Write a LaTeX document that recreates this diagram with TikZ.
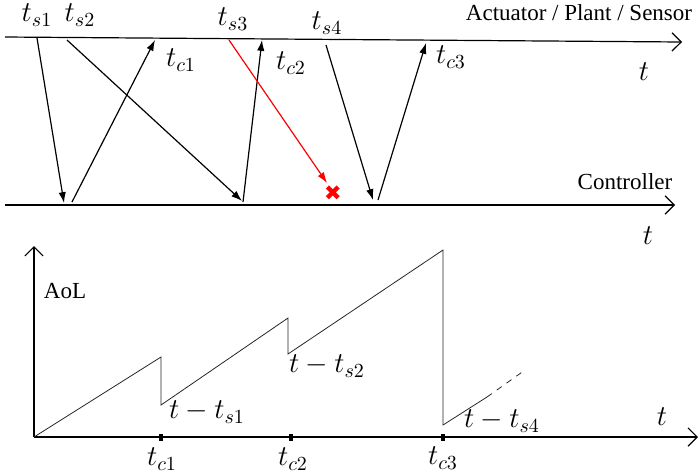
\documentclass[tikz,border=0pt]{standalone}
\usepackage{fontspec}
\setmainfont{Liberation Serif}
\newfontfamily\serifed{Liberation Serif}
\newfontfamily\symfont{DejaVu Sans}
\usetikzlibrary{arrows.meta}

\begin{document}
\begin{tikzpicture}[x=0.5pt, y=-0.5pt,
        msg/.style={-{Latex[length=1.9mm,width=1.3mm]}, semithick},
        ax/.style={-{Straight Barb[length=1.6mm,width=3.2mm]}, semithick},
        curve/.style={thin, black!85},
        lbl/.style={font=\fontsize{14.5}{16}\selectfont, inner sep=0pt},
        txt/.style={font=\serifed\fontsize{11.5}{13}\selectfont, inner sep=0pt},
        tick/.style={fill, minimum width=2pt, minimum height=3.5pt, inner sep=0pt}]
      \useasboundingbox (0,0) rectangle (700,473);
      % time lines
      \coordinate (a0) at (5,37); \coordinate (a1) at (682,42);
      \coordinate (b0) at (5,205); \coordinate (b1) at (675,205);
      \draw[ax] (a0) -- (a1);
      \draw[ax] (b0) -- (b1);
      \node[txt] (act) at (579,13) {Actuator / Plant / Sensor};
      \node[txt] (ctl) at (625,182) {Controller};
      \node[lbl] (ta) at (644,72) {$t$};
      \node[lbl] (tb) at (648,236) {$t$};
      % messages
      \coordinate (s1) at (37,38);  \coordinate (r1) at (64,203);
      \coordinate (u1) at (72,202); \coordinate (c1) at (155,40);
      \coordinate (s2) at (67,40);  \coordinate (r2) at (242,201);
      \coordinate (u2) at (243,202); \coordinate (c2) at (262,40);
      \coordinate (s3) at (229,40); \coordinate (r3) at (327,183);
      \coordinate (s4) at (326,45); \coordinate (r4) at (373,200);
      \coordinate (u3) at (378,200); \coordinate (c3) at (426,43);
      \draw[msg] (s1) -- (r1);
      \draw[msg] (u1) -- (c1);
      \draw[msg] (s2) -- (r2);
      \draw[msg] (u2) -- (c2);
      \draw[msg, red] (s3) -- (r3);
      \draw[msg] (s4) -- (r4);
      \draw[msg] (u3) -- (c3);
      \node[text=red, font=\symfont\fontsize{10.5}{11}\selectfont, inner sep=0pt] (lost) at (333,193) {✖};
      \node[lbl] (ls1) at (37,15) {$t_{s1}$};
      \node[lbl] (ls2) at (80,15) {$t_{s2}$};
      \node[lbl] (ls3) at (233,19) {$t_{s3}$};
      \node[lbl] (ls4) at (327,23) {$t_{s4}$};
      \node[lbl] (lc1) at (181,60) {$t_{c1}$};
      \node[lbl] (lc2) at (291,63) {$t_{c2}$};
      \node[lbl] (lc3) at (451,57) {$t_{c3}$};
      % AoL plot
      \coordinate (o) at (34,437);
      \coordinate (ytop) at (34,246); \coordinate (xend) at (698,437);
      \draw[ax] (o) -- (ytop);
      \draw[ax] (o) -- (xend);
      \node[txt] (aol) at (65,291) {AoL};
      \node[lbl] (tx) at (662,417) {$t$};
      \draw[curve] (o) -- (161,357) -- (161,405) -- (288,318) -- (288,354)
        -- (443,250) -- (443,425) -- (487,397) coordinate (p4);
      \coordinate (p5) at (525,370);
      \draw[curve, dashed] (p4) -- (p5);
      \node[tick] (k1) at (161,437) {};
      \node[tick] (k2) at (291,437) {};
      \node[tick] (k3) at (443,437) {};
      \node[lbl] (lk1) at (162,459) {$t_{c1}$};
      \node[lbl] (lk2) at (293,459) {$t_{c2}$};
      \node[lbl] (lk3) at (443,458) {$t_{c3}$};
      \node[lbl] (d1) at (207,412) {$t-t_{s1}$};
      \node[lbl] (d2) at (327,366) {$t-t_{s2}$};
      \node[lbl] (d4) at (502,421) {$t-t_{s4}$};
\end{tikzpicture}
\end{document}
